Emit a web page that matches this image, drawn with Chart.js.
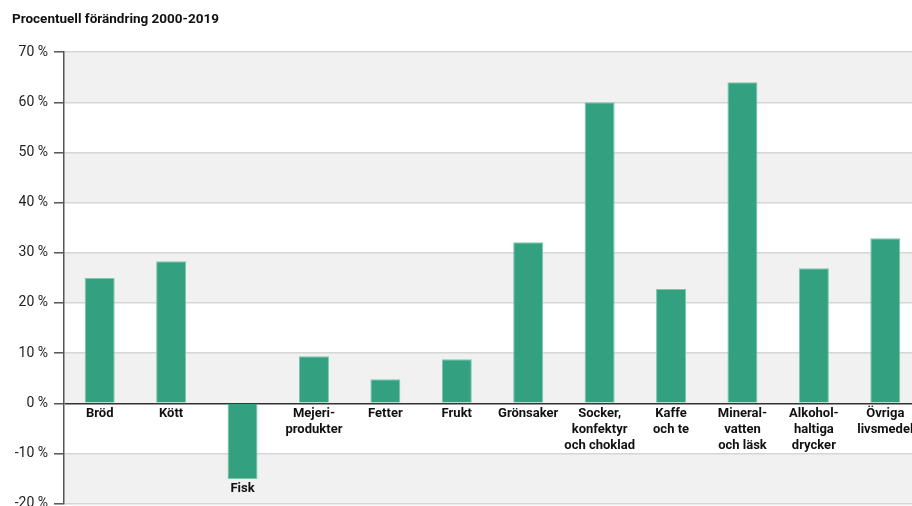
<!DOCTYPE html>
<html>
<head>
<meta charset="utf-8">
<script src="https://cdn.jsdelivr.net/npm/chart.js@4/dist/chart.umd.min.js"></script>
<style>
html,body{margin:0;padding:0;background:#fff;overflow:hidden;}
#wrap{position:absolute;left:0;top:0;width:921px;height:518px;}
</style>
</head>
<body>
<div id="wrap"><canvas id="c"></canvas></div>
<script>
const categories = [
  ['Bröd'], ['Kött'], ['Fisk'], ['Mejeri-', 'produkter'], ['Fetter'], ['Frukt'],
  ['Grönsaker'], ['Socker,', 'konfektyr', 'och choklad'], ['Kaffe', 'och te'],
  ['Mineral-', 'vatten', 'och läsk'], ['Alkohol-', 'haltiga', 'drycker'], ['Övriga', 'livsmedel']
];
const values = [25, 28.3, -15.1, 9.4, 4.8, 8.8, 32.1, 60, 22.8, 64, 26.9, 32.9];
const yTickValues = [-20, -10, 0, 10, 20, 30, 40, 50, 60, 70];
const titleText = 'Procentuell förändring 2000-2019';

const FONT = 'Roboto, "Open Sans", sans-serif';

const bandsPlugin = {
  id: 'bands',
  beforeDraw(chart) {
    const {ctx, chartArea, scales} = chart;
    const y = scales.y;
    ctx.save();
    ctx.fillStyle = '#f1f1f1';
    for (let i = 0; i < yTickValues.length - 1; i++) {
      if (i % 2 === 0) {
        const top = y.getPixelForValue(yTickValues[i + 1]);
        const bot = y.getPixelForValue(yTickValues[i]);
        ctx.fillRect(chartArea.left, top, chartArea.right - chartArea.left, bot - top);
      }
    }
    ctx.restore();
  }
};

const negLabelPlugin = {
  id: 'negLabels',
  afterDatasetsDraw(chart) {
    const {ctx, scales} = chart;
    ctx.save();
    ctx.font = 'bold 13px ' + FONT;
    ctx.fillStyle = '#111';
    ctx.textAlign = 'center';
    ctx.textBaseline = 'top';
    values.forEach((v, i) => {
      if (v < 0) {
        const x = scales.x.getPixelForValue(i);
        const yy = scales.y.getPixelForValue(v) + 3;
        categories[i].forEach((line, k) => ctx.fillText(line, x, yy + k * 15.6));
      }
    });
    ctx.restore();
  }
};

new Chart(document.getElementById('c'), {
  type: 'bar',
  data: {
    labels: categories,
    datasets: [{
      data: values,
      backgroundColor: '#33a07f',
      borderColor: '#7cc6ab',
      borderWidth: 1,
      barPercentage: 0.84,
      categoryPercentage: 0.5
    }]
  },
  options: {
    responsive: true,
    maintainAspectRatio: false,
    animation: false,
    layout: {padding: {left: 12, right: 0, top: 0, bottom: 0}},
    plugins: {
      legend: {display: false},
      tooltip: {enabled: false},
      title: {
        display: true,
        text: titleText,
        align: 'start',
        color: '#111',
        font: {family: FONT, size: 13.5, weight: 'bold'},
        padding: {top: 12, bottom: 24}
      }
    },
    scales: {
      x: {
        type: 'category',
        position: {y: 0},
        grid: {display: false, drawTicks: false, tickLength: 0},
        border: {display: false},
        ticks: {
          color: '#111',
          font: {family: FONT, size: 13, weight: 'bold', lineHeight: 1.2},
          padding: 3,
          maxRotation: 0,
          autoSkip: false,
          callback: (v, i) => values[i] < 0 ? '' : categories[i]
        }
      },
      y: {
        min: -20,
        max: 70,
        afterFit(scale) { scale.width = 52; },
        afterBuildTicks(scale) { scale.ticks = yTickValues.map(v => ({value: v})); },
        border: {display: true, color: '#555', width: 1.5},
        grid: {
          color: ctx => ctx.tick && ctx.tick.value === 0 ? '#333' : '#d6d6d6',
          lineWidth: ctx => ctx.tick && ctx.tick.value === 0 ? 1.5 : 1.6,
          tickColor: '#555',
          tickLength: 10,
          tickWidth: 1.5
        },
        ticks: {
          color: '#222',
          font: {family: FONT, size: 14},
          padding: 6,
          callback: v => v + ' %'
        }
      }
    }
  },
  plugins: [bandsPlugin, negLabelPlugin]
});
</script>
</body>
</html>
